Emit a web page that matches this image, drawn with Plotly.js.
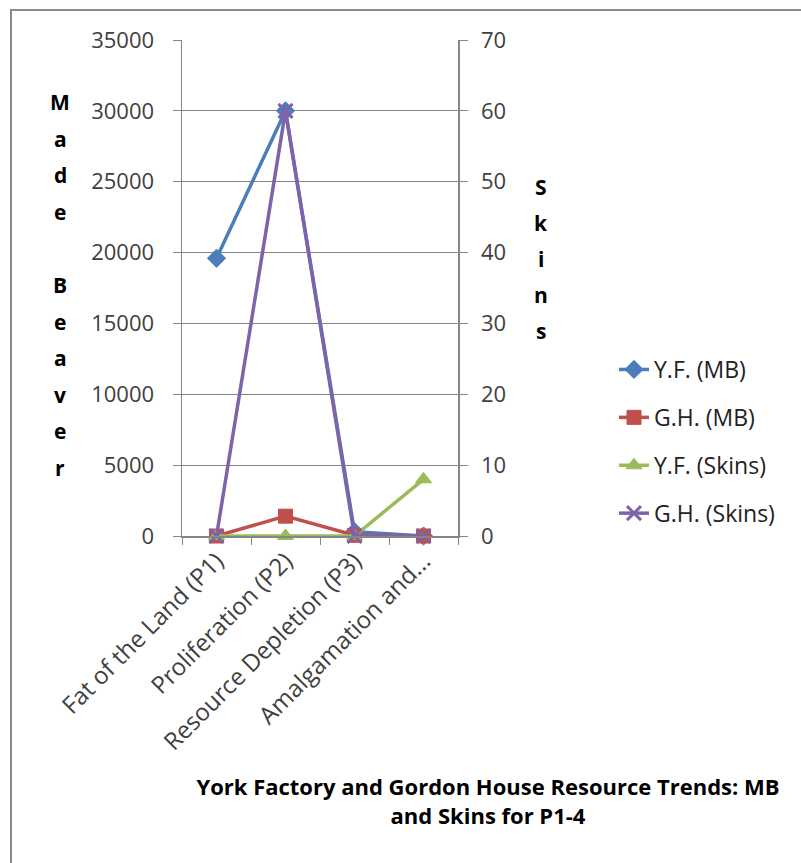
<!DOCTYPE html>
<html>
<head>
<meta charset="utf-8">
<script src="https://cdn.plot.ly/plotly-3.0.1.min.js"></script>
<style>
  html, body { margin: 0; padding: 0; background: #ffffff; }
  #wrap { position: relative; width: 801px; height: 863px; }
  #chart { position: absolute; left: 0; top: 0; width: 801px; height: 863px; }
  #frame { position: absolute; left: 10px; top: 9px; width: 820px; height: 900px;
           border-left: 2px solid #8a8a8a; border-top: 2px solid #8a8a8a; pointer-events: none; }
</style>
</head>
<body>
<div id="wrap">
  <div id="chart"></div>
  <div id="frame"></div>
</div>
<script>
// ---- data ----
const categories = ["Fat of the Land (P1)", "Proliferation (P2)", "Resource Depletion (P3)", "Amalgamation and..."];
const seriesNames = ["Y.F. (MB)", "G.H. (MB)", "Y.F. (Skins)", "G.H. (Skins)"];
const yfMB = [19600, 30000, 300, 0];
const ghMB = [0, 1400, 50, 0];
const yfSkins = [0, 0, 0, 8];
const ghSkins = [0, 60, 0, 0];
const leftTitle = "Made Beaver";
const rightTitle = "Skins";
const chartTitle = "York Factory and Gordon House Resource Trends: MB<br>and Skins for P1-4";

// ---- layout geometry ----
const W = 801, H = 863;
const L = 182, R = 458, T = 40, B = 536;
const FONT = "'Open Sans', 'Liberation Sans', sans-serif";
const textColor = "#404040";

function mk(name, y, axis, color, symbol, size, group) {
  return {
    type: "scatter", mode: "lines+markers", name: name, x: categories, y: y, yaxis: axis,
    legendgroup: group,
    line: { color: color, width: 3.5 },
    marker: { color: color, symbol: symbol, size: size, line: { color: color, width: 1 } },
    cliponaxis: false
  };
}

const traces = [
  mk(seriesNames[0], yfMB, "y", "#4A7EBB", "diamond", 14, "g1"),
  mk(seriesNames[1], ghMB, "y", "#C0504D", "square", 14, "g2"),
  mk(seriesNames[2], yfSkins, "y2", "#9BBB59", "triangle-up", 14, "g3"),
  mk(seriesNames[3], ghSkins, "y2", "#7F63A8", "x-thin", 14, "g4")
];
traces[3].marker.line = { color: "#7F63A8", width: 3 };

const annotations = [];
const pyFromPx = px => (B - px) / (B - T);
const pxToX = px => (px - L) / (R - L);
// stacked letters for axis titles
Array.from(leftTitle).forEach((ch, i) => {
  if (ch === " ") return;
  annotations.push({
    text: ch, xref: "paper", yref: "paper", x: pxToX(60), y: pyFromPx(102 + i * 36.6),
    showarrow: false, xanchor: "center", yanchor: "middle",
    font: { family: FONT, size: 21, color: "#000", weight: "bold" }
  });
});
Array.from(rightTitle).forEach((ch, i) => {
  annotations.push({
    text: ch, xref: "paper", yref: "paper", x: pxToX(541), y: pyFromPx(187 + i * 36),
    showarrow: false, xanchor: "center", yanchor: "middle",
    font: { family: FONT, size: 21, color: "#000", weight: "bold" }
  });
});

const layout = {
  width: W, height: H,
  margin: { l: L, r: W - R, t: T, b: H - B, pad: 0 },
  paper_bgcolor: "rgba(0,0,0,0)", plot_bgcolor: "rgba(0,0,0,0)",
  showlegend: true,
  font: { family: FONT, color: textColor },
  title: {
    text: chartTitle, xref: "container", yref: "container",
    x: 488 / W, xanchor: "center", y: 1 - 795 / H, yanchor: "middle",
    font: { family: FONT, size: 22, color: "#000", weight: "bold" }
  },
  xaxis: {
    type: "category", range: [-0.5, 3.5], tickson: "boundaries",
    ticks: "outside", ticklen: 7, tickcolor: "#868686",
    showline: true, linecolor: "#868686", linewidth: 1.5,
    showgrid: false, zeroline: false, tickangle: -45,
    tickfont: { family: FONT, size: 24, color: textColor }
  },
  yaxis: {
    range: [0, 35000], dtick: 5000, tick0: 0, tickformat: "d",
    ticks: "outside", ticklen: 8, tickcolor: "#868686",
    showline: true, linecolor: "#868686", linewidth: 1.5,
    showgrid: true, gridcolor: "#868686", gridwidth: 1, zeroline: false,
    ticklabelstandoff: 14,
    tickfont: { family: FONT, size: 22, color: textColor }
  },
  yaxis2: {
    overlaying: "y", side: "right", range: [0, 70], dtick: 10, tick0: 0, tickformat: "d",
    ticks: "outside", ticklen: 8, tickcolor: "#868686",
    showline: true, linecolor: "#868686", linewidth: 1.5,
    showgrid: false, zeroline: false,
    ticklabelstandoff: 9,
    tickfont: { family: FONT, size: 22, color: textColor }
  },
  legend: {
    x: pxToX(614), xanchor: "left", y: pyFromPx(348), yanchor: "top",
    traceorder: "grouped", tracegroupgap: 15,
    bgcolor: "rgba(0,0,0,0)",
    font: { family: FONT, size: 23, color: "#222" }
  },
  annotations: annotations
};

Plotly.newPlot("chart", traces, layout, { displayModeBar: false, staticPlot: true });
</script>
</body>
</html>
